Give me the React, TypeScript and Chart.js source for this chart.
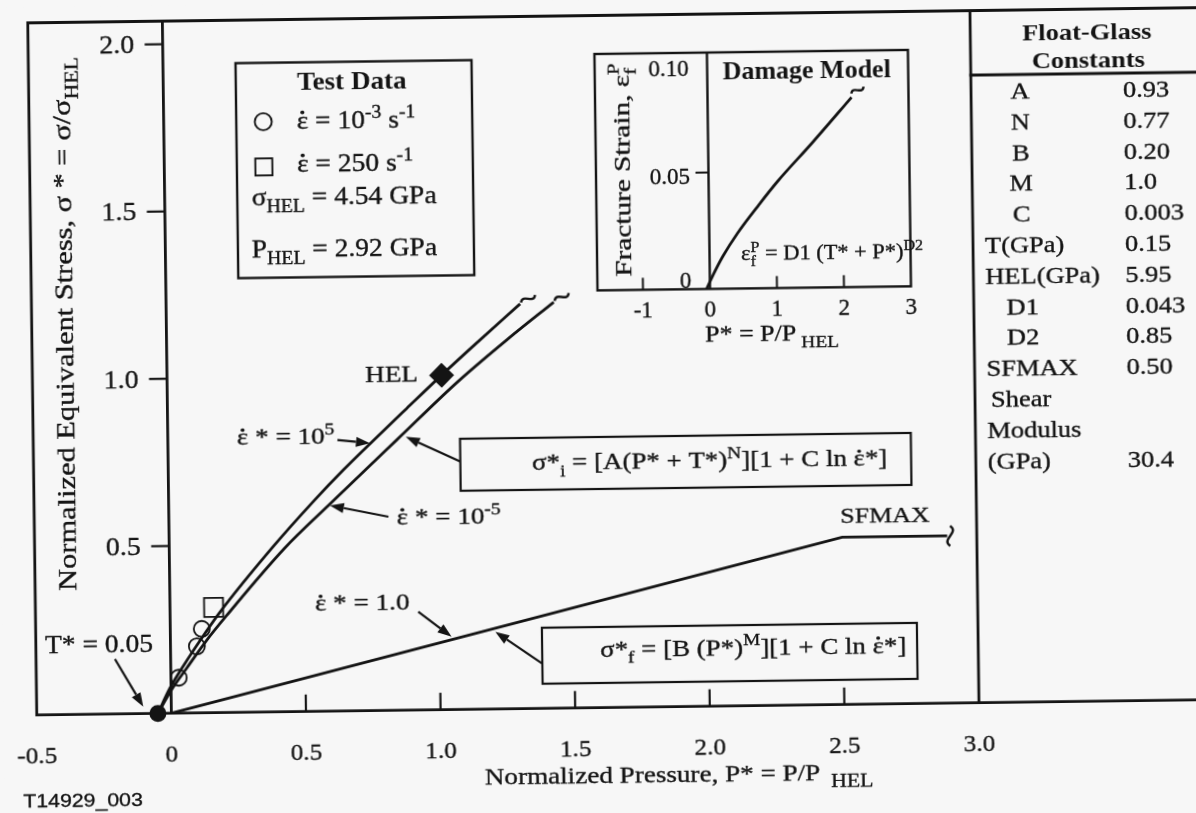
import React, { useEffect, useRef } from 'react';
import { Chart, registerables } from 'chart.js';

Chart.register(...registerables);

const INK = '#141414';
const PAPER = '#f7f7f7';
const SERIF = '"Liberation Serif", "Times New Roman", Times, serif';
const SANS = '"Liberation Sans", Arial, sans-serif';

// ---------- main plot axes ----------
const PRESSURE_TICKS = [0.5, 1.0, 1.5, 2.0, 2.5];
const PRESSURE_LABEL_AT = [-0.5, 0, 0.5, 1.0, 1.5, 2.0, 2.5, 3.0];
const PRESSURE_LABELS = ['-0.5', '0', '0.5', '1.0', '1.5', '2.0', '2.5', '3.0'];
const PRESSURE_TABLE_EDGE = 3.0;
const STRESS_TICKS = [0.5, 1.0, 1.5, 2.0];
const STRESS_LABELS = ['0.5', '1.0', '1.5', '2.0'];

// ---------- intact strength, strain rate 1e5 and 1e-5 ----------
const INTACT_HIGH_RATE_P = [-0.05, -0.005, 0.05, 0.115, 0.185, 0.386, 0.538, 0.65, 0.763, 0.889, 1.02, 1.135, 1.315];
const INTACT_HIGH_RATE_S = [0, 0.074, 0.145, 0.222, 0.3, 0.494, 0.628, 0.72, 0.807, 0.902, 1.0, 1.083, 1.21];
const INTACT_LOW_RATE_P = [-0.05, 0.0, 0.06, 0.13, 0.21, 0.43, 0.6, 0.85, 1.08, 1.27, 1.44];
const INTACT_LOW_RATE_S = [0, 0.068, 0.135, 0.212, 0.29, 0.49, 0.62, 0.808, 0.98, 1.107, 1.214];

// ---------- fractured strength (capped at SFMAX) ----------
const FRACTURED_P = [0, 2.5, 2.89];
const FRACTURED_S = [0, 0.5, 0.5];

// ---------- test data ----------
const QUASI_STATIC_P = [0.029, 0.098, 0.117];
const QUASI_STATIC_S = [0.106, 0.199, 0.251];
const DYNAMIC_P = [0.162];
const DYNAMIC_S = [0.315];
const HEL_P = [1.02];
const HEL_S = [1.0];
const T_STAR = 0.05;

// ---------- float glass constants ----------
const CONSTANT_NAMES = ['A', 'N', 'B', 'M', 'C', 'T(GPa)', 'HEL(GPa)', 'D1', 'D2', 'SFMAX', 'Shear', 'Modulus', '(GPa)'];
const CONSTANT_VALUES = ['0.93', '0.77', '0.20', '1.0', '0.003', '0.15', '5.95', '0.043', '0.85', '0.50', '', '', '30.4'];

// ---------- damage model inset ----------
const DAMAGE_P = [-0.05, 0.05, 0.2, 0.42, 0.75, 1.036, 1.549, 2.15];
const DAMAGE_STRAIN = [0, 0.006, 0.014, 0.0237, 0.036, 0.046, 0.062, 0.0815];
const INSET_P_TICKS = [-1, 1, 2];
const INSET_P_LABEL_AT = [-1, 0, 1, 2, 3];
const INSET_P_LABELS = ['-1', '0', '1', '2', '3'];
const INSET_STRAIN_TICKS = [0.05];
const INSET_STRAIN_LABEL_AT = [0, 0.05, 0.1];
const INSET_STRAIN_LABELS = ['0', '0.05', '0.10'];

// ---------- page geometry ----------
const W = 1230;
const H = 840;
const MAIN_BOX = { left: 32.8, top: 15.5, bottom: 707.7 };
const INSET_BOX = { left: 599, top: 54, right: 912.5, bottom: 290.4 };
const TABLE = { headerLine: 80, rowTop: 96.2, rowStep: 30.8, nameCenter: 1024, nameLeft: 987, valueLeft: 1127 };

const pts = (xs: number[], ys: number[]) => xs.map((x, i) => ({ x, y: ys[i] }));

// ---------- text helpers ----------
type Seg = { t: string; k?: 'sup' | 'sub' | 'dot' | 'over'; r?: number };
type Style = { size: number; bold?: boolean; sx?: number; family?: string };
type Align = 'left' | 'center' | 'right';

function segFont(st: Style, seg: Seg): string {
  const small = seg.k === 'sup' || seg.k === 'sub' || seg.k === 'over';
  const px = small ? st.size * (seg.r ?? 0.72) : st.size;
  return `${st.bold ? 'bold ' : ''}${px.toFixed(2)}px ${st.family ?? SERIF}`;
}

function drawRich(ctx: CanvasRenderingContext2D, segs: Seg[], x: number, baseline: number, st: Style, align: Align = 'left') {
  ctx.save();
  ctx.translate(x, baseline);
  ctx.scale(st.sx ?? 1, 1);
  const placed: { seg: Seg; at: number; w: number }[] = [];
  let cursor = 0;
  let held = 0;
  for (const seg of segs) {
    ctx.font = segFont(st, seg);
    const w = ctx.measureText(seg.t).width;
    placed.push({ seg, at: cursor, w });
    if (seg.k === 'over') held = w;
    else {
      cursor += Math.max(w, held);
      held = 0;
    }
  }
  cursor += held;
  const start = align === 'left' ? 0 : align === 'center' ? -cursor / 2 : -cursor;
  ctx.fillStyle = INK;
  ctx.strokeStyle = INK;
  ctx.lineWidth = 0.35;
  ctx.lineJoin = 'round';
  ctx.textAlign = 'left';
  ctx.textBaseline = 'alphabetic';
  for (const p of placed) {
    ctx.font = segFont(st, p.seg);
    const dy = p.seg.k === 'sup' || p.seg.k === 'over' ? -st.size * 0.4 : p.seg.k === 'sub' ? st.size * 0.3 : 0;
    ctx.fillText(p.seg.t, start + p.at, dy);
    if (!st.bold) ctx.strokeText(p.seg.t, start + p.at, dy);
    if (p.seg.k === 'dot') {
      ctx.beginPath();
      ctx.arc(start + p.at + p.w * 0.5, -st.size * 0.64, st.size * 0.075, 0, Math.PI * 2);
      ctx.fill();
    }
  }
  ctx.restore();
}

// place text by its visual centre line
function text(ctx: CanvasRenderingContext2D, segs: Seg[] | string, x: number, cy: number, st: Style, align: Align = 'left') {
  const s = typeof segs === 'string' ? [{ t: segs }] : segs;
  drawRich(ctx, s, x, cy + st.size * 0.34, st, align);
}

function rotatedText(ctx: CanvasRenderingContext2D, segs: Seg[], cx: number, cy: number, st: Style) {
  ctx.save();
  ctx.translate(cx, cy);
  ctx.rotate(-Math.PI / 2);
  drawRich(ctx, segs, 0, st.size * 0.34, st, 'center');
  ctx.restore();
}

function seg(ctx: CanvasRenderingContext2D, x1: number, y1: number, x2: number, y2: number) {
  ctx.beginPath();
  ctx.moveTo(x1, y1);
  ctx.lineTo(x2, y2);
  ctx.stroke();
}

function arrow(ctx: CanvasRenderingContext2D, x1: number, y1: number, x2: number, y2: number) {
  const a = Math.atan2(y2 - y1, x2 - x1);
  const head = 14;
  const half = 5;
  const bx = x2 - head * Math.cos(a);
  const by = y2 - head * Math.sin(a);
  ctx.lineWidth = 2.2;
  seg(ctx, x1, y1, bx, by);
  ctx.beginPath();
  ctx.moveTo(x2, y2);
  ctx.lineTo(bx + half * Math.sin(a), by - half * Math.cos(a));
  ctx.lineTo(bx - half * Math.sin(a), by + half * Math.cos(a));
  ctx.closePath();
  ctx.fill();
}

function tilde(ctx: CanvasRenderingContext2D, cx: number, cy: number, angle: number, len: number) {
  ctx.save();
  ctx.translate(cx, cy);
  ctx.rotate(angle);
  ctx.lineWidth = 2.4;
  ctx.beginPath();
  ctx.moveTo(-len / 2, 0);
  ctx.bezierCurveTo(-len / 6, -len * 0.5, len / 6, len * 0.5, len / 2, 0);
  ctx.stroke();
  ctx.restore();
}

const eps = (rest: Seg[]): Seg[] => [{ t: 'ε', k: 'dot' }, ...rest];

// ---------- main plot decorations ----------
const mainDecor = {
  id: 'mainDecor',
  beforeDatasetsDraw(chart: any) {
    const ctx: CanvasRenderingContext2D = chart.ctx;
    const { left, top, right, bottom } = chart.chartArea;
    const X = (v: number) => chart.scales.x.getPixelForValue(v);
    const Y = (v: number) => chart.scales.y.getPixelForValue(v);
    const tableLeft = X(PRESSURE_TABLE_EDGE);
    ctx.save();
    ctx.strokeStyle = INK;
    ctx.fillStyle = INK;
    ctx.lineCap = 'square';

    // frame, stress axis and table rules
    ctx.lineWidth = 2.8;
    ctx.beginPath();
    ctx.moveTo(right, top);
    ctx.lineTo(left, top);
    ctx.lineTo(left, bottom);
    ctx.lineTo(right, bottom);
    ctx.stroke();
    seg(ctx, X(0), top, X(0), bottom);
    seg(ctx, tableLeft, top, tableLeft, bottom);
    seg(ctx, tableLeft, TABLE.headerLine, right, TABLE.headerLine);

    // ticks
    ctx.lineWidth = 2.2;
    ctx.lineCap = 'butt';
    STRESS_TICKS.forEach((v) => seg(ctx, X(0) - 18, Y(v), X(0), Y(v)));
    PRESSURE_TICKS.forEach((v) => seg(ctx, X(v), bottom, X(v), bottom - 17));

    // tick labels
    STRESS_TICKS.forEach((v, i) => text(ctx, STRESS_LABELS[i], 139, Y(v), { size: 25, sx: 1.12 }, 'right'));
    PRESSURE_LABEL_AT.forEach((v, i) => text(ctx, PRESSURE_LABELS[i], X(v), 748, { size: 24, sx: 1.05 }, 'center'));

    // axis titles
    text(ctx, [{ t: 'Normalized Pressure, P* = P/P' }, { t: '  HEL', k: 'sub', r: 0.8 }], 480, 775, { size: 24, sx: 1.13 });
    rotatedText(ctx, [{ t: 'Normalized Equivalent Stress, σ * = σ/σ' }, { t: 'HEL', k: 'sub' }], 65, 317, { size: 26, sx: 1.17 });
    text(ctx, 'T14929_003', 78, 794, { size: 19, sx: 1.12, family: SANS }, 'center');

    // test data legend
    const lw = { size: 25, sx: 1.1 };
    ctx.lineWidth = 2.4;
    ctx.strokeRect(240, 58.5, 236, 215);
    text(ctx, 'Test Data', 356, 77, { size: 26, bold: true, sx: 1.04 }, 'center');
    ctx.lineWidth = 1.9;
    ctx.beginPath();
    ctx.arc(267, 117.4, 8.5, 0, Math.PI * 2);
    ctx.stroke();
    text(ctx, eps([{ t: ' = 10' }, { t: '-3', k: 'sup' }, { t: ' s' }, { t: '-1', k: 'sup' }]), 300.4, 116.1, lw);
    ctx.lineWidth = 1.9;
    ctx.strokeRect(258.5, 154.1, 17, 17);
    text(ctx, eps([{ t: ' = 250 s' }, { t: '-1', k: 'sup' }]), 300.2, 159, lw);
    text(ctx, [{ t: 'σ' }, { t: 'HEL', k: 'sub' }, { t: ' = 4.54 GPa' }], 254.4, 192, lw);
    text(ctx, [{ t: 'P' }, { t: 'HEL', k: 'sub' }, { t: ' = 2.92 GPa' }], 253.7, 244, lw);

    // curve annotations
    const an = { size: 23, sx: 1.18 };
    text(ctx, 'HEL', 392, 371, an, 'center');
    text(ctx, 'SFMAX', 883.6, 518.7, { size: 22, sx: 1.18 }, 'center');
    text(ctx, eps([{ t: ' * = 10' }, { t: '5', k: 'sup' }]), 236.6, 432.3, an);
    arrow(ctx, 337, 436.6, 369.5, 440.3);
    text(ctx, eps([{ t: ' * = 10' }, { t: '-5', k: 'sup' }]), 395.3, 514.1, an);
    arrow(ctx, 387, 514, 328.6, 501.9);
    text(ctx, eps([{ t: ' * = 1.0' }]), 312.4, 599.6, an);
    arrow(ctx, 415.6, 609.4, 448.6, 634.8);
    text(ctx, 'T* = 0.05', 96, 637, { size: 25, sx: 1.1 }, 'center');
    arrow(ctx, 111.7, 652.7, 139.4, 700.8);

    // model equations
    ctx.lineWidth = 2.2;
    ctx.strokeRect(459.6, 437, 450.8, 52);
    text(ctx, [{ t: 'σ*' }, { t: 'i', k: 'sub' }, { t: ' = [A(P* + T*)' }, { t: 'N', k: 'sup' }, { t: '][1 + C ln ' }, { t: 'ε', k: 'dot' }, { t: '*]' }], 531.3, 461.5, { size: 23, sx: 1.17 });
    arrow(ctx, 459.6, 459.7, 405.4, 434.2);
    ctx.lineWidth = 2.2;
    ctx.strokeRect(539, 627, 375, 56);
    text(ctx, [{ t: 'σ*' }, { t: 'f', k: 'sub' }, { t: ' = [B (P*)' }, { t: 'M', k: 'sup' }, { t: '][1 + C ln ' }, { t: 'ε', k: 'dot' }, { t: '*]' }], 596.9, 648.7, { size: 23, sx: 1.17 });
    arrow(ctx, 539, 662.8, 492.4, 630.4);

    // constants table
    const tb = { size: 23, sx: 1.15 };
    text(ctx, 'Float-Glass', 1091.6, 38.1, { size: 23, bold: true, sx: 1.15 }, 'center');
    text(ctx, 'Constants', 1092.8, 66.4, { size: 23, bold: true, sx: 1.15 }, 'center');
    CONSTANT_NAMES.forEach((name, i) => {
      const cy = TABLE.rowTop + i * TABLE.rowStep;
      if (name.length <= 2) text(ctx, name, TABLE.nameCenter, cy, tb, 'center');
      else text(ctx, name, name === 'Shear' ? TABLE.nameLeft + 4 : TABLE.nameLeft, cy, tb);
      if (CONSTANT_VALUES[i]) text(ctx, CONSTANT_VALUES[i], TABLE.valueLeft, cy, tb);
    });

    // break marks at curve ends
    ctx.strokeStyle = INK;
    const endOf = (xs: number[], ys: number[]) => [X(xs[xs.length - 1]), Y(ys[ys.length - 1])];
    const [ux, uy] = endOf(INTACT_HIGH_RATE_P, INTACT_HIGH_RATE_S);
    tilde(ctx, ux + 8, uy - 5, -0.5, 16);
    const [lx, ly] = endOf(INTACT_LOW_RATE_P, INTACT_LOW_RATE_S);
    tilde(ctx, lx + 8, ly - 5, -0.5, 16);
    const [fx, fy] = endOf(FRACTURED_P, FRACTURED_S);
    tilde(ctx, fx + 3, fy, Math.PI / 2, 20);
    ctx.restore();
  },
};

// ---------- inset decorations ----------
const insetDecor = {
  id: 'insetDecor',
  beforeDatasetsDraw(chart: any) {
    const ctx: CanvasRenderingContext2D = chart.ctx;
    const { left, top, right, bottom } = chart.chartArea;
    const X = (v: number) => chart.scales.x.getPixelForValue(v);
    const Y = (v: number) => chart.scales.y.getPixelForValue(v);
    ctx.save();
    ctx.strokeStyle = INK;
    ctx.fillStyle = INK;
    ctx.lineWidth = 2.4;
    ctx.strokeRect(left, top, right - left, bottom - top);
    seg(ctx, X(0), top, X(0), bottom);
    ctx.lineWidth = 2;
    INSET_STRAIN_TICKS.forEach((v) => seg(ctx, X(0) - 13, Y(v), X(0), Y(v)));
    INSET_P_TICKS.forEach((v) => seg(ctx, X(v), bottom, X(v), bottom - 12));

    const lab = { size: 23 };
    INSET_P_LABEL_AT.forEach((v, i) => text(ctx, INSET_P_LABELS[i], X(v), 310, lab, 'center'));
    INSET_STRAIN_LABEL_AT.forEach((v, i) => {
      const cy = Math.min(Math.max(Y(v) + 3, top + 15), bottom - 9);
      text(ctx, INSET_STRAIN_LABELS[i], 693, cy, lab, 'right');
    });

    text(ctx, [{ t: 'P* = P/P' }, { t: ' HEL', k: 'sub', r: 0.75 }], 706, 335, { size: 23, sx: 1.13 });
    rotatedText(ctx, [{ t: 'Fracture Strain, ε' }, { t: 'P', k: 'over' }, { t: 'f', k: 'sub' }], 624.8, 170.3, { size: 24, sx: 1.22 });
    text(ctx, 'Damage Model', 811, 72.7, { size: 25, bold: true, sx: 1.04 }, 'center');
    text(ctx, [{ t: 'ε' }, { t: 'P', k: 'over' }, { t: 'f', k: 'sub' }, { t: ' = D1 (T* + P*)' }, { t: 'D2', k: 'sup' }], 743, 254.9, { size: 20, sx: 1.12 });

    const ex = X(DAMAGE_P[DAMAGE_P.length - 1]);
    const ey = Y(DAMAGE_STRAIN[DAMAGE_STRAIN.length - 1]);
    tilde(ctx, ex + 6, ey - 7, -0.5, 14);
    ctx.restore();
  },
};

const lineSet = (label: string, xs: number[], ys: number[], smooth: boolean) => ({
  label,
  data: pts(xs, ys),
  showLine: true,
  borderColor: INK,
  borderWidth: 2.8,
  pointRadius: 0,
  pointHoverRadius: 0,
  cubicInterpolationMode: smooth ? 'monotone' : 'default',
  tension: 0,
  clip: false,
});

export default function App() {
  const mainRef = useRef<HTMLCanvasElement | null>(null);
  const insetRef = useRef<HTMLCanvasElement | null>(null);

  useEffect(() => {
    document.documentElement.style.background = PAPER;
    document.body.style.background = PAPER;
    document.body.style.overflow = 'hidden';
    if (!mainRef.current || !insetRef.current) return;

    const main = new Chart(mainRef.current, {
      type: 'scatter',
      data: {
        datasets: [
          {
            label: 'HEL',
            data: pts(HEL_P, HEL_S),
            pointStyle: 'rectRot',
            pointRadius: 12.5,
            backgroundColor: INK,
            borderColor: INK,
            borderWidth: 0,
            clip: false,
          },
          {
            label: 'T*',
            data: [{ x: -T_STAR, y: 0 }],
            pointStyle: 'circle',
            pointRadius: 8.5,
            backgroundColor: INK,
            borderColor: INK,
            borderWidth: 0,
            clip: false,
          },
          {
            label: 'strain rate 1e-3 /s',
            data: pts(QUASI_STATIC_P, QUASI_STATIC_S),
            pointStyle: 'circle',
            pointRadius: 8,
            backgroundColor: 'rgba(0,0,0,0)',
            borderColor: INK,
            borderWidth: 1.8,
            clip: false,
          },
          {
            label: 'strain rate 250 /s',
            data: pts(DYNAMIC_P, DYNAMIC_S),
            pointStyle: 'rect',
            pointRadius: 13.4,
            backgroundColor: 'rgba(0,0,0,0)',
            borderColor: INK,
            borderWidth: 1.8,
            clip: false,
          },
          lineSet('intact 1e5', INTACT_HIGH_RATE_P, INTACT_HIGH_RATE_S, true),
          lineSet('intact 1e-5', INTACT_LOW_RATE_P, INTACT_LOW_RATE_S, true),
          lineSet('fractured', FRACTURED_P, FRACTURED_S, false),
        ] as any,
      },
      options: {
        animation: false,
        responsive: false,
        devicePixelRatio: 1,
        events: [],
        layout: {
          autoPadding: false,
          padding: { left: MAIN_BOX.left, top: MAIN_BOX.top, right: 0, bottom: H - MAIN_BOX.bottom },
        },
        scales: {
          x: { type: 'linear', min: -0.5, max: 3.947, display: false },
          y: { type: 'linear', min: 0, max: 2.069, display: false },
        },
        plugins: { legend: { display: false }, tooltip: { enabled: false } },
      },
      plugins: [mainDecor],
    });

    const inset = new Chart(insetRef.current, {
      type: 'scatter',
      data: {
        datasets: [lineSet('fracture strain', DAMAGE_P, DAMAGE_STRAIN, true)] as any,
      },
      options: {
        animation: false,
        responsive: false,
        devicePixelRatio: 1,
        events: [],
        layout: {
          autoPadding: false,
          padding: {
            left: INSET_BOX.left,
            top: INSET_BOX.top,
            right: W - INSET_BOX.right,
            bottom: H - INSET_BOX.bottom,
          },
        },
        scales: {
          x: { type: 'linear', min: -1.679, max: 3.0, display: false },
          y: { type: 'linear', min: 0, max: 0.1015, display: false },
        },
        plugins: { legend: { display: false }, tooltip: { enabled: false } },
      },
      plugins: [insetDecor],
    });

    return () => {
      main.destroy();
      inset.destroy();
    };
  }, []);

  return (
    <div
      style={{
        position: 'fixed',
        left: 0,
        top: 0,
        width: W,
        height: H,
        background: PAPER,
        transform: 'rotate(-0.745deg)',
        transformOrigin: '598px 406px',
      }}
    >
      <canvas ref={mainRef} width={W} height={H} style={{ position: 'absolute', left: 0, top: 0 }} />
      <canvas ref={insetRef} width={W} height={H} style={{ position: 'absolute', left: 0, top: 0 }} />
    </div>
  );
}
